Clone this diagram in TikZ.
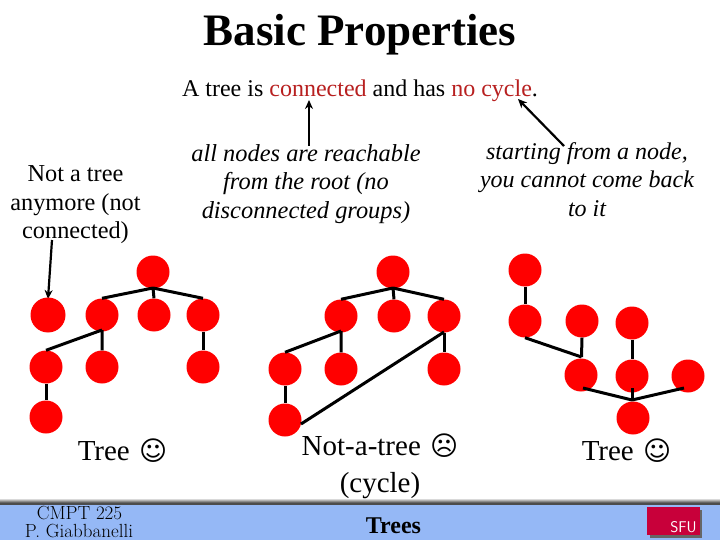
\documentclass[tikz,border=0pt]{standalone}
\usepackage{fontspec}
\setmainfont{Liberation Serif}
\newfontfamily\symf{DejaVu Sans}
\newfontfamily\lmf{Latin Modern Roman}
\usetikzlibrary{arrows.meta}
\definecolor{tred}{HTML}{B82020}
\definecolor{barblue}{HTML}{95B8F6}
\definecolor{sfured}{HTML}{C8003A}
\newcommand{\fs}[1]{\fontsize{#1}{#1}\selectfont}
\newcommand{\happyface}{\hspace{2pt}{\symf\fontsize{27}{27}\selectfont ☺}}
\newcommand{\sadface}{\hspace{2pt}{\symf\fontsize{27}{27}\selectfont ☹}}
\tikzset{
 vx/.style={circle,fill=red,inner sep=0pt,minimum size=33pt},
 treeline/.style={black,line width=3pt},
 ptr/.style={black,line width=2.2pt,-{Stealth[length=9pt,width=8pt]}},
 lbl/.style={align=center,inner sep=0pt,font=\fs{29}},
 note/.style={align=center,inner sep=0pt,font=\fs{24.4}\itshape},
 notetwo/.style={align=center,inner sep=0pt,font=\fs{24}\itshape},
 plain/.style={align=center,inner sep=0pt,font=\fs{24.3}}
}
\begin{document}
\begin{tikzpicture}[x=1pt,y=-1pt]
\useasboundingbox (0,0) rectangle (720,540);
\fill[white] (0,0) rectangle (720,540);
% footer
\fill[barblue] (0,505) rectangle (720,540);
\shade[top color=white,bottom color=black!75] (0,498) rectangle (720,503);
\fill[black!70] (0,503) rectangle (720,505);
\fill[black!60] (650,510) rectangle (702,538);
\fill[sfured] (647,507) rectangle (700,535);
\node[text=white,font=\sffamily\fs{15.5},inner sep=0pt] (sfu) at (683.5,527) {SFU};
\node[inner sep=0pt,font=\lmf\fs{19}] (c1) at (79.5,513) {CMPT 225};
\node[inner sep=0pt,font=\lmf\fs{19}] (c2) at (79,531.5) {P. Giabbanelli};
\node[inner sep=0pt,font=\fs{24}\bfseries] (trees) at (393.5,526) {Trees};
% text
\node[inner sep=0pt,font=\fs{45}\bfseries] (title) at (360,34.5) {Basic Properties};
\node[inner sep=0pt,font=\fs{24}] (sub) at (360,91) {A tree is \textcolor{tred}{connected} and has \textcolor{tred}{no cycle}.};
\node[plain] (nt) at (75.5,205) {Not a tree\\[4.3pt]anymore (not\\[4.3pt]connected)};
\node[note] (n1) at (306,184) {all nodes are reachable\\[4.2pt]from the root (no\\[4.2pt]disconnected groups)};
\node[notetwo] (n2) at (587,179.5) {starting from a node,\\[4.4pt]you cannot come back\\[4.4pt]to it};
\node[lbl] (t1) at (122.5,451) {Tree \happyface};
\node[lbl] (t2) at (380,466.5) {Not-a-tree \sadface\\[7.5pt](cycle)};
\node[lbl] (t3) at (626.5,451) {Tree \happyface};
% arrows
\coordinate (a1s) at (52,240); \coordinate (a1e) at (48,299);
\coordinate (a2s) at (309,146); \coordinate (a2e) at (309,100);
\coordinate (a3s) at (564,146); \coordinate (a3e) at (518,99);
\draw[ptr] (a1s) -- (a1e);
\draw[ptr] (a2s) -- (a2e);
\draw[ptr] (a3s) -- (a3e);
% tree 1
\coordinate (aj) at (153,288);
\coordinate (ak) at (102,330);
\node[vx] (ar) at (153,272) {};
\node[vx,minimum size=35pt] (ai) at (48,315) {};
\node[vx] (a1) at (102,315) {};
\node[vx] (a2) at (154,315) {};
\node[vx] (a3) at (203,315) {};
\node[vx] (a4) at (46,367) {};
\node[vx] (a5) at (102,367) {};
\node[vx] (a6) at (203,367) {};
\node[vx] (a7) at (46,417) {};
\draw[treeline] (aj) -- (a1.north) (aj) -- (a2.north) (aj) -- (a3.north);
\draw[treeline] (ak) -- (a4.north) (ak) -- (a5.north);
\draw[treeline] (a3.south) -- (a6.north) (a4.south) -- (a7.north);
% tree 2
\coordinate (bj) at (393,288);
\coordinate (bk) at (341,331);
\coordinate (bl) at (444,332);
\coordinate (bm) at (301,424);
\node[vx] (br) at (393,272) {};
\node[vx] (b1) at (341,316) {};
\node[vx] (b2) at (394,316) {};
\node[vx] (b3) at (444,316) {};
\node[vx] (b4) at (285,369) {};
\node[vx] (b5) at (341,369) {};
\node[vx] (b6) at (444,369) {};
\node[vx] (b7) at (285,420) {};
\draw[treeline] (bj) -- (b1.north) (bj) -- (b2.north) (bj) -- (b3.north);
\draw[treeline] (bk) -- (b4.north) (bk) -- (b5.north);
\draw[treeline] (b3.south) -- (b6.north) (b4.south) -- (b7.north);
\draw[treeline] (bl) -- (bm);
% tree 3
\coordinate (cj) at (581.5,357);
\coordinate (ck) at (632,400);
\coordinate (cl) at (583,388);
\coordinate (cm) at (632,388);
\coordinate (cn) at (684,388);
\node[vx] (c0) at (525,270) {};
\node[vx] (c3) at (525,321) {};
\node[vx] (c4) at (582,321) {};
\node[vx] (c5) at (632,323) {};
\node[vx] (c6) at (581,375) {};
\node[vx] (c7) at (632,376) {};
\node[vx] (c8) at (688,376) {};
\node[vx] (c9) at (633,418) {};
\draw[treeline] (c0.south) -- (c3.north);
\draw[treeline] (c3.south) -- (cj);
\draw[treeline] (c4.south) -- (cj);
\draw[treeline] (c5.south) -- (c7.north);
\draw[treeline] (cl) -- (ck);
\draw[treeline] (cm) -- (ck);
\draw[treeline] (cn) -- (ck);
\end{tikzpicture}
\end{document}
